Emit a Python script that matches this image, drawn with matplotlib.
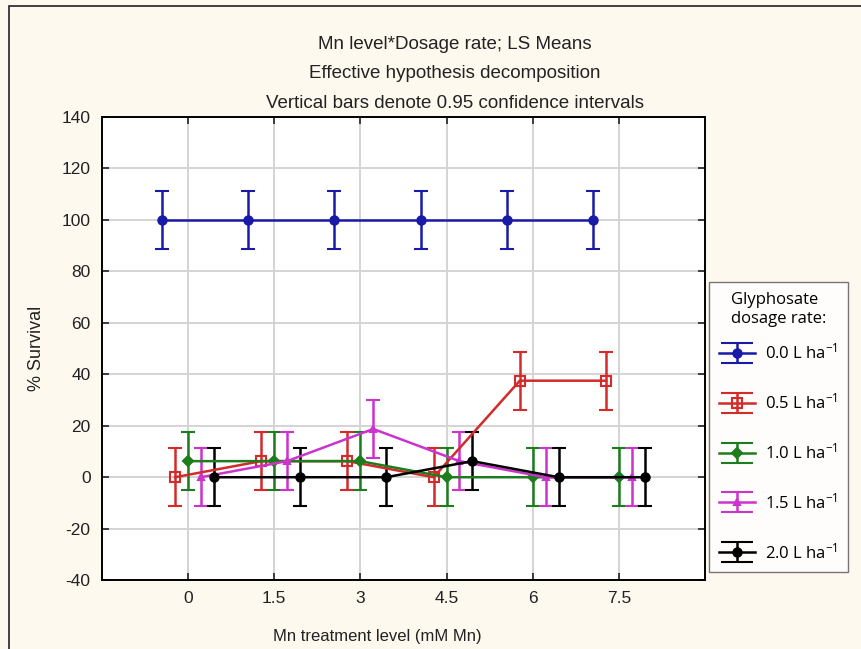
"""
Mn level * Dosage rate LS means plot with 0.95 CI bars
"""
import matplotlib
matplotlib.use("Agg")
import matplotlib.pyplot as plt
from matplotlib.lines import Line2D
from matplotlib.legend_handler import HandlerErrorbar
from matplotlib.patches import Rectangle
import numpy as np

plt.rcParams["font.family"] = ["Liberation Sans", "DejaVu Sans"]
plt.rcParams["axes.unicode_minus"] = False
plt.rcParams["mathtext.fontset"] = "custom"
plt.rcParams["mathtext.rm"] = "Open Sans"
plt.rcParams["mathtext.default"] = "rm"

# data
mn_levels = ["0", "1.5", "3", "4.5", "6", "7.5"]
dose_labels = ["0.0 L ha$^{-1}$", "0.5 L ha$^{-1}$", "1.0 L ha$^{-1}$",
               "1.5 L ha$^{-1}$", "2.0 L ha$^{-1}$"]
surv_00 = [100, 100, 100, 100, 100, 100]
surv_05 = [0, 6.25, 6.25, 0, 37.5, 37.5]
surv_10 = [6.25, 6.25, 6.25, 0, 0, 0]
surv_15 = [0, 6.25, 18.75, 6.25, 0, 0]
surv_20 = [0, 0, 0, 6.25, 0, 0]
ci_half = 11.25

series = [surv_00, surv_05, surv_10, surv_15, surv_20]
colors = ["#1a1aa8", "#d42a2a", "#1d7d1d", "#cc33cc", "#000000"]
markers = ["o", "s", "D", "^", "o"]
msizes = [6, 7, 5, 4, 6]
mfaces = ["#1a1aa8", "none", "#1d7d1d", "#cc33cc", "#000000"]
offsets = [-0.3, -0.15, 0.0, 0.15, 0.3]


class WideCapHandler(HandlerErrorbar):
    """Legend errorbar with caps as wide as the handle."""
    def create_artists(self, legend, orig_handle, xdescent, ydescent,
                       width, height, fontsize, trans):
        arts = super().create_artists(legend, orig_handle, xdescent, ydescent,
                                      width, height, fontsize, trans)
        for a in arts:
            if isinstance(a, Line2D) and a.get_marker() == "_":
                a.set_markersize(23)
        return arts


fig = plt.figure(figsize=(8.62, 6.49), dpi=100, facecolor="#fdf9ee")
fig.add_artist(Rectangle((0.011, -0.1), 1.2, 1.09, transform=fig.transFigure,
                         fill=False, edgecolor="#222222", lw=1.2))
ax = fig.add_axes([0.118, 0.106, 0.700, 0.714])
ax.set_facecolor("white")

x = np.arange(len(mn_levels))
handles = []
for vals, c, m, ms, mf, off, lab in zip(series, colors, markers, msizes,
                                        mfaces, offsets, dose_labels):
    h = ax.errorbar(x + off, vals, yerr=ci_half, color=c, lw=1.8,
                    marker=m, ms=ms, mfc=mf, mec=c, mew=1.5,
                    capsize=5, capthick=1.8, elinewidth=1.8, label=lab)
    handles.append(h)

ax.set_xlim(-1, 6)
ax.set_ylim(-40, 140)
ax.set_xticks(x)
ax.set_xticklabels(mn_levels)
ax.set_yticks(np.arange(-40, 141, 20))
ax.grid(True, color="#d4d4d4", lw=1.4)
ax.set_axisbelow(True)
ax.tick_params(direction="in", length=5, width=1.2, labelsize=12.5,
               top=True, right=True, pad=8, colors="#222222")
for sp in ax.spines.values():
    sp.set_linewidth(1.4)

fig.text(0.528, 0.932, "Mn level*Dosage rate; LS Means", ha="center",
         va="center", fontsize=13.5, color="#222222")
fig.text(0.528, 0.886, "Effective hypothesis decomposition", ha="center",
         va="center", fontsize=13.5, color="#222222")
fig.text(0.528, 0.840, "Vertical bars denote 0.95 confidence intervals",
         ha="center", va="center", fontsize=13.5, color="#222222")
fig.text(0.438, 0.020, "Mn treatment level (mM Mn)", ha="center",
         va="center", fontsize=12, color="#222222")
fig.text(0.042, 0.463, "% Survival", ha="center", va="center",
         rotation=90, fontsize=13, color="#222222")

leg = fig.legend(handles=handles, loc="upper left",
                 bbox_to_anchor=(0.822, 0.565), frameon=True, fancybox=False,
                 title="Glyphosate\ndosage rate:", fontsize=12,
                 title_fontsize=12, labelspacing=1.8, handlelength=2.2,
                 handletextpad=0.6, borderpad=0.6, borderaxespad=0,
                 handler_map={type(handles[0]): WideCapHandler(yerr_size=0.6)})
# tighter gap between the title and the first entry
leg._legend_box.sep = 11.5
leg.get_frame().set_edgecolor("#555555")
leg.get_frame().set_linewidth(1.0)
for t in leg.get_texts():
    t.set_family(["Open Sans", "DejaVu Sans"])
leg.get_title().set_family(["Open Sans", "DejaVu Sans"])

fig.savefig("out.png", dpi=100, facecolor=fig.get_facecolor())
